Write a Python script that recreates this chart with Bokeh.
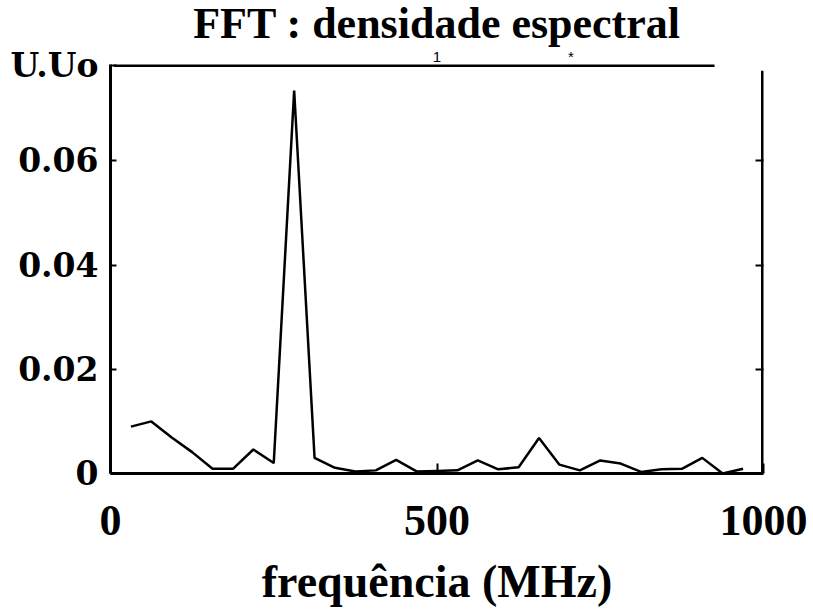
from bokeh.plotting import figure
from bokeh.models import Range1d, FixedTicker, LinearAxis
from bokeh.embed import file_html
from bokeh.resources import INLINE

# frequency bins (MHz) and spectral density
freq = [31.25 * k for k in range(1, 32)]
dens = [0.0090, 0.0100, 0.0069, 0.0041, 0.0009, 0.0009, 0.0046, 0.0020,
        0.0735, 0.0030, 0.0011, 0.0004, 0.0006, 0.0026, 0.0004, 0.0005,
        0.0006, 0.0025, 0.0008, 0.0012, 0.0068, 0.0017, 0.0006, 0.0025,
        0.0019, 0.0003, 0.0008, 0.0009, 0.0030, 0.0000, 0.0009]

Y_TOP = 0.0785

x_ticks = [0, 500, 1000]
x_tick_labels = {0: "0", 500: "500", 1000: "1000"}
y_ticks = [0, 0.02, 0.04, 0.06, 0.0784]
y_tick_labels = {0: "0", 0.02: "0.02", 0.04: "0.04", 0.06: "0.06", 0.0784: "U.Uo"}
top_marks = [500, 705]
top_mark_labels = {500: "1", 705: "*"}

title_text = "FFT : densidade espectral"
x_label = "frequência (MHz)"

p = figure(width=813, height=609, output_backend="svg", toolbar_location=None,
           x_range=Range1d(0, 1000), y_range=Range1d(0, Y_TOP),
           min_border_left=110, min_border_right=50, min_border_top=0,
           min_border_bottom=0)
p.outline_line_color = None
p.grid.visible = False
p.background_fill_color = "white"
p.border_fill_color = "white"

p.title.text = title_text
p.title.text_font = "Liberation Serif"
p.title.text_font_style = "bold"
p.title.text_font_size = "44px"
p.title.align = "center"
p.title.text_color = "black"
p.title.standoff = -7

# x axis
xa = p.xaxis[0]
xa.ticker = FixedTicker(ticks=x_ticks)
xa.major_label_overrides = x_tick_labels
xa.major_label_text_font = "Liberation Serif"
xa.major_label_text_font_style = "bold"
xa.major_label_text_font_size = "44px"
xa.major_label_text_color = "black"
xa.major_label_standoff = 32
xa.major_tick_in = 10
xa.major_tick_out = 0
xa.minor_tick_line_color = None
xa.axis_line_width = 3
xa.major_tick_line_width = 2
xa.axis_label = x_label
xa.axis_label_text_font = "Liberation Serif"
xa.axis_label_text_font_style = "bold"
xa.axis_label_text_font_size = "46px"
xa.axis_label_text_color = "black"
xa.axis_label_standoff = 18

# y axis
ya = p.yaxis[0]
ya.ticker = FixedTicker(ticks=y_ticks)
ya.major_label_overrides = y_tick_labels
ya.major_label_text_font = "DejaVu Serif"
ya.major_label_text_font_style = "bold"
ya.major_label_text_font_size = "33px"
ya.major_label_text_color = "black"
ya.major_label_standoff = 12
ya.major_tick_in = 6
ya.major_tick_out = 0
ya.minor_tick_line_color = None
ya.axis_line_width = 3
ya.major_tick_line_width = 2

# right axis: ticks only
ra = LinearAxis(ticker=FixedTicker(ticks=[0.02, 0.04, 0.06]))
ra.major_label_text_font_size = "0px"
ra.major_label_text_color = None
ra.major_tick_in = 8
ra.major_tick_out = 0
ra.minor_tick_line_color = None
ra.axis_line_color = None
ra.major_tick_line_width = 2
p.add_layout(ra, "right")

# top axis: only the small scan marks
ta = LinearAxis(ticker=FixedTicker(ticks=top_marks))
ta.major_label_overrides = top_mark_labels
ta.major_label_text_font = "Liberation Sans"
ta.major_label_text_font_size = "15px"
ta.major_label_text_color = "black"
ta.major_label_standoff = 0
ta.major_tick_in = 0
ta.major_tick_out = 0
ta.minor_tick_line_color = None
ta.axis_line_color = None
p.add_layout(ta, "above")

# frame lines (partial, as in the scan)
p.segment(x0=[998.5], y0=[0], x1=[998.5], y1=[Y_TOP - 0.0012], line_color="black", line_width=3)
p.segment(x0=[5], y0=[Y_TOP - 0.0002], x1=[925], y1=[Y_TOP - 0.0002], line_color="black", line_width=3)

# spectrum
p.line(freq, dens, line_color="black", line_width=2.5)

open("out.html", "w").write(file_html(p, INLINE))
